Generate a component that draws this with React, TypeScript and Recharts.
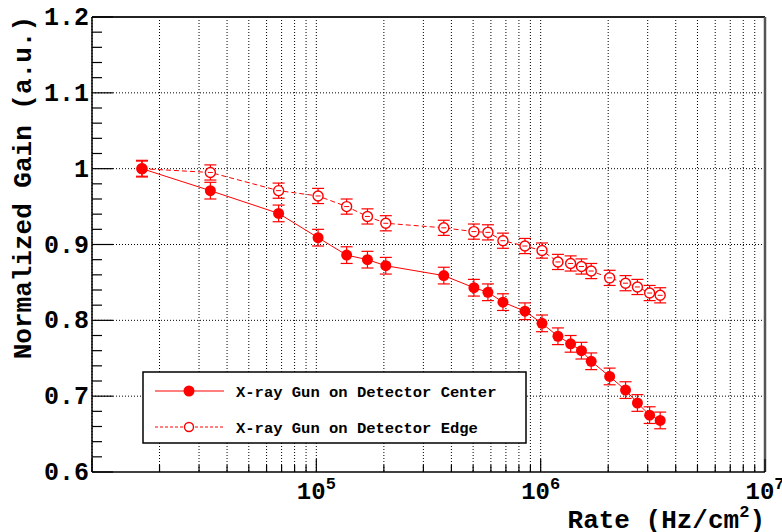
import React from 'react';
import { LineChart, Line, XAxis, YAxis, CartesianGrid, ReferenceLine, ErrorBar, Legend } from 'recharts';

const rates = [1.67e4, 3.37e4, 6.79e4, 1.018e5, 1.365e5, 1.69e5, 2.04e5, 3.7e5, 5.04e5, 5.82e5, 6.79e5, 8.51e5, 1.014e6, 1.194e6, 1.36e6, 1.52e6, 1.68e6, 2.03e6, 2.39e6, 2.7e6, 3.06e6, 3.41e6];
const centerGain = [1.0, 0.971, 0.941, 0.909, 0.886, 0.88, 0.872, 0.859, 0.843, 0.837, 0.824, 0.812, 0.796, 0.779, 0.769, 0.76, 0.746, 0.726, 0.708, 0.691, 0.675, 0.668];
const centerErr = [0.011, 0.011, 0.011, 0.011, 0.011, 0.011, 0.011, 0.011, 0.011, 0.011, 0.011, 0.011, 0.011, 0.011, 0.011, 0.011, 0.011, 0.011, 0.011, 0.011, 0.011, 0.011];
const edgeGain = [1.0, 0.995, 0.971, 0.964, 0.95, 0.937, 0.928, 0.922, 0.917, 0.916, 0.905, 0.898, 0.892, 0.877, 0.875, 0.871, 0.865, 0.856, 0.849, 0.844, 0.836, 0.833];
const edgeErr = [0.01, 0.01, 0.01, 0.01, 0.01, 0.01, 0.01, 0.01, 0.01, 0.01, 0.01, 0.01, 0.01, 0.01, 0.01, 0.01, 0.01, 0.01, 0.01, 0.01, 0.01, 0.01];

const seriesNames = ['X-ray Gun on Detector Center', 'X-ray Gun on Detector Edge'];
const decades = [1e4, 1e5, 1e6];
const multipliers = [1, 2, 3, 4, 5, 6, 7, 8, 9];
const xMajorLabeled = [1e5, 1e6, 1e7];
const yMajor = [0.6, 0.7, 0.8, 0.9, 1.0, 1.1, 1.2];
const yGrid = [0.7, 0.8, 0.9, 1.0, 1.1];
const yStep = 0.02;

const RED = '#ff0000';
const FONT = '"Liberation Mono", "DejaVu Sans Mono", monospace';

const xTicks = [...decades.flatMap((d) => multipliers.map((m) => m * d)), 1e7];
const yTicks: number[] = [];
for (let i = 0; i <= Math.round((1.2 - 0.6) / yStep); i++) yTicks.push(Number((0.6 + i * yStep).toFixed(2)));

const centerData = rates.map((x, i) => ({ x, y: centerGain[i], err: centerErr[i] }));
const edgeData = rates.map((x, i) => ({ x, y: edgeGain[i], err: edgeErr[i] }));

const isMajorY = (v: number) => yMajor.some((m) => Math.abs(m - v) < 1e-6);
const isDecade = (v: number) => Math.abs(Math.log10(v) - Math.round(Math.log10(v))) < 1e-6;

const YTick = (props: any) => {
  const { x, y, payload } = props;
  const v = payload.value;
  const major = isMajorY(v);
  return (
    <g>
      <line x1={x} x2={x + (major ? 21 : 10)} y1={y} y2={y} stroke="#000" strokeWidth={1.2} />
      {major && (
        <text x={89} y={y + 8} textAnchor="end" fontFamily={FONT} fontWeight="bold" fontSize={25} fill="#000">
          {Number(v.toFixed(1)).toString()}
        </text>
      )}
    </g>
  );
};

const XTick = (props: any) => {
  const { x, y, payload } = props;
  const v = payload.value;
  const major = isDecade(v);
  const labeled = xMajorLabeled.some((m) => Math.abs(m - v) / m < 1e-6);
  return (
    <g>
      <line x1={x} x2={x} y1={y} y2={y - (major ? 13 : 7)} stroke="#000" strokeWidth={1.2} />
      {labeled && (
        <text x={x} y={y + 27} textAnchor="middle" fontFamily={FONT} fontWeight="bold" fill="#000">
          <tspan fontSize={24}>10</tspan>
          <tspan fontSize={17} dy={-10}>{Math.round(Math.log10(v))}</tspan>
        </text>
      )}
    </g>
  );
};

const XTitle = (props: any) => {
  const vb = props.viewBox || { x: 92, y: 472, width: 673, height: 60 };
  return (
    <text x={vb.x + vb.width} y={vb.y + 56} textAnchor="end" fontFamily={FONT} fontWeight="bold" fontSize={26} fill="#000">
      <tspan>Rate (Hz/cm</tspan>
      <tspan fontSize={17} dy={-11}>2</tspan>
      <tspan dy={11}>)</tspan>
    </text>
  );
};

const YTitle = (props: any) => {
  const vb = props.viewBox || { x: 0, y: 17, width: 92, height: 455 };
  const tx = 31;
  const ty = vb.y - 1;
  return (
    <text x={tx} y={ty} transform={`rotate(-90, ${tx}, ${ty})`} textAnchor="end" fontFamily={FONT} fontWeight="bold" fontSize={26} fill="#000">
      Normalized Gain (a.u.)
    </text>
  );
};

const EdgeDot = (p: any) => {
  if (p.cx == null || p.cy == null) return <g key={`e${p.index}`} />;
  return (
    <g key={`e${p.index}`}>
      <circle cx={p.cx} cy={p.cy} r={5} fill="#fff" stroke={RED} strokeWidth={1.4} />
      <line x1={p.cx - 2.5} x2={p.cx + 2.5} y1={p.cy} y2={p.cy} stroke={RED} strokeWidth={1} />
    </g>
  );
};

const LegendBox = (props: any) => {
  const payload = (props.payload || []).slice().sort((a: any, b: any) => seriesNames.indexOf(a.value) - seriesNames.indexOf(b.value));
  return (
    <svg width={386} height={74} style={{ display: 'block' }}>
      <rect x={1} y={1} width={383} height={71} fill="#fff" stroke="#000" strokeWidth={1.5} />
      {payload.map((item: any, i: number) => {
        const ly = 20 + i * 36;
        const open = i === 1;
        return (
          <g key={item.value}>
            <line x1={13} x2={82} y1={ly} y2={ly} stroke={RED} strokeWidth={1} strokeDasharray={open ? '3 2' : undefined} />
            {open ? (
              <circle cx={47} cy={ly} r={4.5} fill="#fff" stroke={RED} strokeWidth={1.4} />
            ) : (
              <circle cx={47} cy={ly} r={5.5} fill={RED} />
            )}
            <text x={94} y={ly + 6} fontFamily={FONT} fontWeight="bold" fontSize={15.5} fill="#000">
              {item.value}
            </text>
          </g>
        );
      })}
    </svg>
  );
};

export default function App() {
  return (
    <div style={{ position: 'absolute', left: 0, top: 0, width: 782, height: 532, background: '#fff' }}>
      <LineChart width={782} height={532} margin={{ top: 17, right: 17, left: 0, bottom: 0 }}>
        <CartesianGrid horizontal={false} vertical={true} stroke="#000" strokeDasharray="1 2" strokeWidth={1} />
        {yGrid.map((v) => (
          <ReferenceLine key={`g${v}`} y={v} stroke="#000" strokeDasharray="1 2" strokeWidth={1} />
        ))}
        <XAxis
          dataKey="x"
          type="number"
          scale="log"
          domain={[1e4, 1e7]}
          allowDataOverflow
          ticks={xTicks}
          interval={0}
          tickSize={0}
          tickMargin={0}
          tickLine={false}
          height={60}
          axisLine={{ stroke: '#000', strokeWidth: 1.5 }}
          tick={<XTick />}
          label={<XTitle />}
        />
        <YAxis
          type="number"
          domain={[0.6, 1.2]}
          allowDataOverflow
          ticks={yTicks}
          interval={0}
          tickSize={0}
          tickMargin={0}
          tickLine={false}
          width={92}
          axisLine={{ stroke: '#000', strokeWidth: 1.5 }}
          tick={<YTick />}
          label={<YTitle />}
        />
        <ReferenceLine y={1.2} stroke="#222" strokeWidth={2} />
        <ReferenceLine x={1e7} stroke="#555" strokeWidth={2.5} />
        <Line
          data={edgeData}
          dataKey="y"
          name={seriesNames[1]}
          stroke={RED}
          strokeWidth={1}
          strokeDasharray="5 3"
          dot={EdgeDot}
          activeDot={false}
          isAnimationActive={false}
          legendType="circle"
        >
          <ErrorBar dataKey="err" direction="y" width={6} stroke={RED} strokeWidth={1.2} />
        </Line>
        <Line
          data={centerData}
          dataKey="y"
          name={seriesNames[0]}
          stroke={RED}
          strokeWidth={1}
          dot={{ r: 5.5, fill: RED, stroke: RED, strokeWidth: 0 }}
          activeDot={false}
          isAnimationActive={false}
          legendType="circle"
        >
          <ErrorBar dataKey="err" direction="y" width={6} stroke={RED} strokeWidth={1.2} />
        </Line>
        <Legend
          layout="horizontal"
          verticalAlign="middle"
          align="center"
          content={<LegendBox />}
          wrapperStyle={{ position: 'absolute', left: 142, top: 371, width: 386, height: 74 }}
        />
      </LineChart>
    </div>
  );
}
